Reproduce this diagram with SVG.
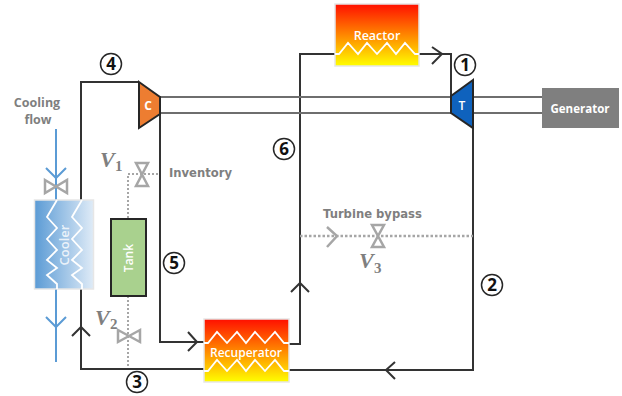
<svg xmlns="http://www.w3.org/2000/svg" width="622" height="396" viewBox="0 0 622 396">
<style>
.pipe{fill:none;stroke:#333;stroke-width:2}
.shaft{fill:none;stroke:#6e6e6e;stroke-width:2}
.blue{fill:none;stroke:#5b9bd5;stroke-width:2}
.dot{fill:none;stroke:#a6a6a6;stroke-width:2;stroke-dasharray:2 2}
.dotb{fill:none;stroke:#a6a6a6;stroke-width:2.500;stroke-dasharray:2.500 2}
.gch{fill:none;stroke:#a6a6a6;stroke-width:2.500}
.valve{fill:#fff;stroke:#a6a6a6;stroke-width:2.500}
.zig{fill:none;stroke:#fff;stroke-width:1.800}
.lab{font-family:"DejaVu Sans",sans-serif;font-weight:700;fill:#7f7f7f;font-size:11.600px}
.cf{font-family:"Open Sans",sans-serif;font-weight:700;fill:#7f7f7f;font-size:12.500px;text-anchor:middle}
.in{font-family:"Open Sans",sans-serif;fill:#fff;text-anchor:middle}
.v{font-family:"Liberation Serif",serif;font-style:italic;font-weight:700;fill:#7f7f7f;font-size:22px}
.vs{font-family:"Liberation Serif",serif;font-weight:700;fill:#7f7f7f;font-size:15px}
.ring{fill:#fff;stroke:#262626;stroke-width:1.500}
.num{font-family:"Open Sans",sans-serif;font-weight:700;font-size:17px;text-anchor:middle;fill:#111}
.box{stroke:#e6e6e6;stroke-width:1.500}
</style>
<defs>
<linearGradient id="heat" x1="0" y1="0" x2="0" y2="1"><stop offset="0" stop-color="#ff0f00"/><stop offset="1" stop-color="#ffff00"/></linearGradient>
<linearGradient id="cool" x1="0" y1="0" x2="1" y2="0"><stop offset="0" stop-color="#5b9bd5"/><stop offset="1" stop-color="#dfebf7"/></linearGradient>
</defs>
<g id="connectors">
<path class="pipe" d="M81 200V82H139"/>
<path class="pipe" d="M204 369H81V289"/>
<path class="pipe" d="M160 114V342H204"/>
<path class="pipe" d="M289 344H300V54H335"/>
<path class="pipe" d="M419 54H451V96"/>
<path class="pipe" d="M473 128V370H289"/>
<path class="pipe" d="M432 47L442 54L432 64"/>
<path class="pipe" d="M395 362L386 370L395 379"/>
<path class="pipe" d="M72 336L81 327L90 336"/>
<path class="pipe" d="M188 332L197 342L188 351"/>
<path class="pipe" d="M291 292L300 283L309 292"/>
<path class="shaft" d="M160 97H451M160 113H451M473 97H542M473 113H542"/>
<path class="blue" d="M56 129V200M56 289V362"/>
<path class="blue" d="M46 168L56 178L66 168M46 317L56 327L66 317"/>
<path class="dot" d="M158 174H128V219M128 296V366"/>
<path class="dotb" d="M300 236H473"/>
<path class="gch" d="M327 227L337 236L327 247"/>
</g>
<g id="cooling-valve"><path class="valve" d="M45 180L67 193V180L45 193Z"/></g>
<g id="v1"><path class="valve" d="M136 163H148L136 186H148Z"/><text class="v" x="100" y="167">V</text><text class="vs" x="115" y="171">1</text></g>
<g id="v2"><path class="valve" d="M118 330L140 342V330L118 342Z"/><text class="v" x="95" y="325">V</text><text class="vs" x="110" y="329">2</text></g>
<g id="v3"><path class="valve" d="M372 225H384L372 247H384Z"/><text class="v" x="359" y="268">V</text><text class="vs" x="374" y="273">3</text></g>
<g id="cooler"><rect class="box" x="34.500" y="200" width="59" height="89" fill="url(#cool)"/>
<path class="zig" d="M57 200L47 217L57 228L47 239L57 250L47 260L57 268L47 275L57 284V289M82 200L72 217L82 228L72 239L82 250L72 260L82 268L72 275L82 284V289"/>
<text class="in" font-size="13" font-weight="600" fill-opacity="0.800" transform="translate(69 245) rotate(-90)">Cooler</text></g>
<g id="tank"><rect x="111" y="219" width="35" height="77" fill="#a9d18e" stroke="#262626" stroke-width="2"/><text class="in" font-size="12" font-weight="600" transform="translate(133 258) rotate(-90)">Tank</text></g>
<g id="compressor"><path d="M139 82L160 97V114L139 128Z" fill="#ed7d31" stroke="#262626" stroke-width="2"/><text class="in" font-size="12" font-weight="700" x="148" y="110">C</text></g>
<g id="turbine"><path d="M473 80L451 96V113L473 128Z" fill="#0f62bd" stroke="#262626" stroke-width="2"/><text class="in" font-size="12" font-weight="600" x="462" y="110">T</text></g>
<g id="generator"><rect x="542" y="88" width="77" height="40" fill="#7f7f7f"/><text class="in" font-size="11.500" font-weight="700" x="580" y="113">Generator</text></g>
<g id="reactor"><rect class="box" x="335" y="4" width="84" height="62" fill="url(#heat)"/><path class="zig" d="M335 54L339 54L348 43L358 54L367 43L377 54L387 43L396 54L405 43L415 54H419"/><text class="in" font-size="12.500" font-weight="600" x="377" y="40">Reactor</text></g>
<g id="recuperator"><rect class="box" x="204" y="319" width="85" height="63" fill="url(#heat)"/><path class="zig" d="M204 343H208L217 332L227 343L237 332L246 343L255 332L265 343L275 332L284 343H289M204 371H208L217 360L227 371L237 360L246 371L255 360L265 371L275 360L284 371H289"/><text class="in" font-size="12" font-weight="600" x="246" y="357">Recuperator</text></g>
<text class="cf" x="37" y="107">Cooling</text>
<text class="cf" x="38" y="124">flow</text>
<text class="lab" x="169" y="177">Inventory</text>
<text class="lab" x="323" y="218">Turbine bypass</text>
<g id="s1"><circle class="ring" cx="465" cy="65" r="10.500"/><text class="num" x="465" y="71">1</text></g>
<g id="s2"><circle class="ring" cx="492" cy="285" r="10.500"/><text class="num" x="492" y="291">2</text></g>
<g id="s3"><circle class="ring" cx="137" cy="382" r="10.500"/><text class="num" x="137" y="388">3</text></g>
<g id="s4"><circle class="ring" cx="111" cy="64" r="10.500"/><text class="num" x="111" y="70">4</text></g>
<g id="s5"><circle class="ring" cx="174" cy="263" r="10.500"/><text class="num" x="174" y="269">5</text></g>
<g id="s6"><circle class="ring" cx="284" cy="149" r="10.500"/><text class="num" x="284" y="155">6</text></g>
</svg>
